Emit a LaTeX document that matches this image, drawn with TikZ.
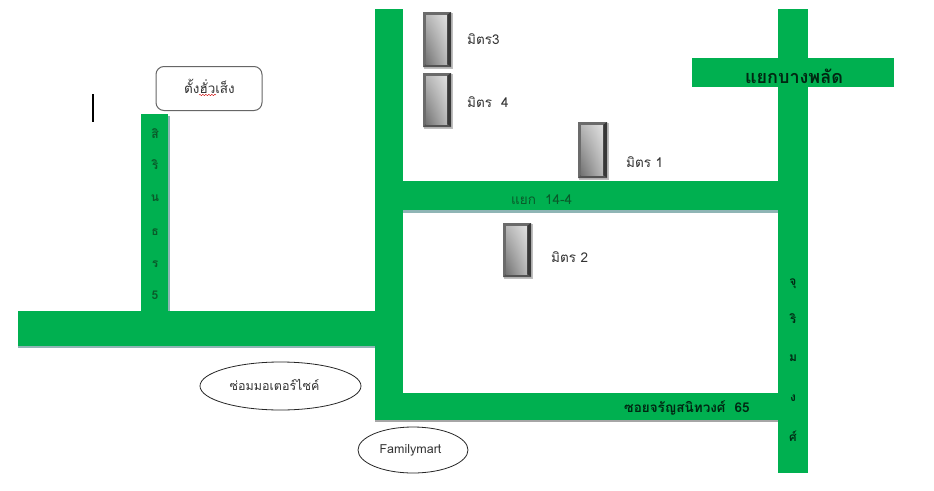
\documentclass[tikz,border=0pt]{standalone}
\usepackage{fontspec}
\newfontfamily\thaifont[Script=Thai]{Loma}
\usetikzlibrary{shapes.geometric,decorations.pathmorphing,shadings}
\definecolor{road}{HTML}{00B050}
\definecolor{roadtext}{HTML}{0A5A2A}
\definecolor{roadshadow}{HTML}{8FB5B5}
\tikzset{
  x=1pt,y=-1pt,
  every node/.style={font=\thaifont\fontsize{13.5}{15}\selectfont,inner sep=0pt,text=black!80},
  roadfill/.style={fill=road,draw=none},
  shadowfill/.style={fill=roadshadow,draw=none},
  roadlabel/.style={text=roadtext,font=\thaifont\fontsize{13.5}{15}\selectfont},
  vlabel/.style={text=roadtext,font=\thaifont\bfseries\fontsize{12}{14}\selectfont},
  bigroadlabel/.style={text=black!78!road,font=\thaifont\bfseries\fontsize{18}{20}\selectfont},
  soilabel/.style={text=black!78!road,font=\thaifont\bfseries\fontsize{13.5}{15}\selectfont},
  place/.style={draw=black!85,line width=0.8pt,fill=white},
  shopbox/.style={draw=black!60,line width=1pt,fill=white,rounded corners=8pt},
}
\newcommand{\glassbox}[4]{%
  \fill[black!25] (#1+1,#2+1) rectangle (#3+2,#4+2);
  \fill[black!58] (#1,#2) rectangle (#3,#4);
  \fill[black!78] (#3-4,#2+3) -- (#3,#2) -- (#3,#4) -- (#3-4,#4-3) -- cycle;
  \fill[black!68] (#1+3,#4-3) -- (#3-4,#4-3) -- (#3,#4) -- (#1,#4) -- cycle;
  \shade[lower left=black!55,upper right=black!12,lower right=black!28,upper left=black!28] (#1+3,#2+3) rectangle (#3-4,#4-3);
}
\begin{document}
\begin{tikzpicture}
\useasboundingbox (0,0) rectangle (934,490);
\fill[white] (0,0) rectangle (934,490);
% road shadows
\fill[shadowfill] (18,346) rectangle (375,348);
\fill[shadowfill] (168,116) rectangle (170,311);
\fill[shadowfill] (403,210) rectangle (778,213);
\fill[black!35] (375,420) rectangle (778,422);
% roads
\fill[roadfill] (141,114) rectangle (168,311);
\fill[roadfill] (18,311) rectangle (375,346);
\fill[roadfill] (375,9) rectangle (403,420);
\fill[roadfill] (403,181) rectangle (778,210);
\fill[roadfill] (403,393) rectangle (778,420);
\fill[roadfill] (778,9) rectangle (808,473);
\fill[roadfill] (692,58) rectangle (894,87);
% buildings
\glassbox{423}{12}{451}{67}
\glassbox{423}{73}{451}{127}
\glassbox{578}{122}{607}{178}
\glassbox{503}{223}{531}{277}
% cursor
\draw[black,line width=2pt] (92.5,94) -- (92.5,122);
% labelled shapes
\node[shopbox,minimum width=106pt,minimum height=44pt] (shop) at (209,88.5) {};
\node (shoptext) at (209.5,86) {ตั้งฮั่วเส็ง};
\draw[red!80!black,line width=0.4pt,decorate,decoration={snake,amplitude=0.7pt,segment length=3pt}] (199,95) -- (216,95);
\node[place,ellipse,minimum width=161pt,minimum height=48pt] (repair) at (280.5,386) {};
\node[font=\thaifont\fontsize{12.5}{14}\selectfont] (repairtext) at (274.5,385) {ซ่อมมอเตอร์ไซค์};
\node[place,ellipse,minimum width=110pt,minimum height=46pt] (fm) at (413,450) {};
\node[font=\thaifont\fontsize{12.5}{14}\selectfont] (fmtext) at (410.5,450) {Familymart};
% friend labels
\node[anchor=west] (m3) at (467,39) {มิตร3};
\node[anchor=west] (m4) at (467,102) {มิตร\ \ 4};
\node[anchor=west] (m1) at (626,162) {มิตร 1};
\node[anchor=west] (m2) at (551,257) {มิตร 2};
% road labels
\node[roadlabel,anchor=west] (r144) at (511,200) {แยก\ \ 14-4};
\node[bigroadlabel] (rbang) at (794,76) {แยกบางพลัด};
\node[soilabel,anchor=west] (rsoi) at (624,408) {ซอยจรัญสนิทวงศ์\ \ 65};
\node[vlabel] (s1) at (155,134) {สิ};
\node[vlabel] (s2) at (155,165) {ริ};
\node[vlabel] (s3) at (155,198) {น};
\node[vlabel] (s4) at (155,232) {ธ};
\node[vlabel] (s5) at (155,264) {ร};
\node[vlabel] (s6) at (155,295) {5};
\node[vlabel,text=black!75!road] (u1) at (793,284) {จุ};
\node[vlabel,text=black!75!road] (u2) at (793,319) {ริ};
\node[vlabel,text=black!75!road] (u3) at (793,358) {ม};
\node[vlabel,text=black!75!road] (u4) at (793,398) {ง};
\node[vlabel,text=black!75!road] (u5) at (793,436) {ศ์};
\end{tikzpicture}
\end{document}
